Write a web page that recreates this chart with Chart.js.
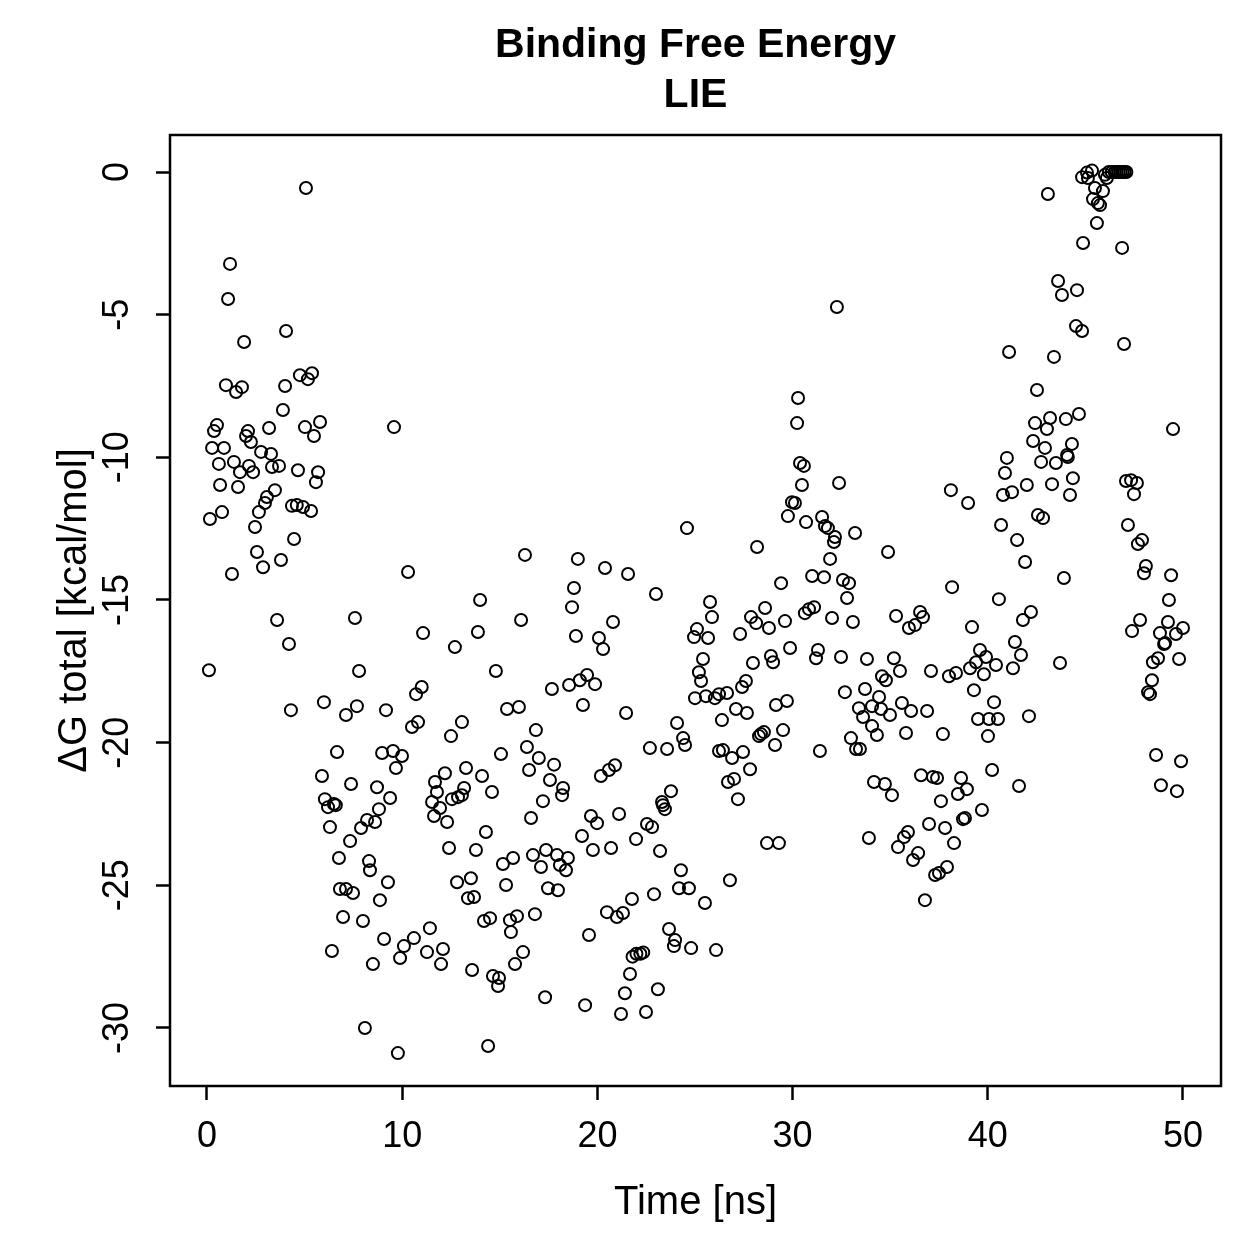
<!DOCTYPE html>
<html>
<head>
<meta charset="utf-8">
<title>Binding Free Energy - LIE</title>
<script src="https://cdn.jsdelivr.net/npm/chart.js@4.4.1/dist/chart.umd.min.js"></script>
<style>
  html, body { margin: 0; padding: 0; background: #fff; }
  #chart { display: block; }
</style>
</head>
<body>
<canvas id="chart" width="1259" height="1259"></canvas>
<script>
// Simulation time of each frame [ns] and LIE binding energy [kcal/mol]
const timeNs = [
  5.07, 1.18, 1.08, 4.05, 1.9, 0.97, 1.79, 1.49, 4.0, 4.76,
  5.38, 5.17, 3.89, 0.51, 0.36, 2.1, 2.0, 2.25, 3.18, 5.02,
  5.79, 5.48, 9.58, 0.26, 0.87, 2.77, 3.28,
  0.61, 1.38, 2.15, 1.69, 2.36, 3.33, 3.69, 4.66, 5.69, 5.58,
  0.67, 1.59, 3.48, 3.07, 2.97, 2.66, 0.77, 0.15, 4.35, 4.6,
  4.92, 5.33, 2.46, 4.46, 2.56, 3.79, 2.87, 1.28, 10.3, 3.59,
  7.58, 11.07, 4.2, 0.1, 7.79, 11.0, 10.71, 5.99, 4.3, 7.68,
  7.12, 9.17, 10.81, 10.5, 6.66, 8.97, 9.53, 9.99, 9.68,
  5.89, 7.38, 8.71, 9.38, 6.04, 6.2, 6.5, 6.6, 8.81, 8.2,
  8.61, 7.89, 6.3, 7.33, 6.76, 8.3, 8.35, 9.27, 6.81, 7.12,
  7.48, 8.86, 6.97, 7.99, 9.07, 10.6, 10.09, 11.42, 6.4, 8.5,
  9.89, 11.27, 8.09, 9.78,
  12.19, 13.27, 11.68, 11.78, 11.53, 11.94, 11.63, 14.09, 14.6, 12.55,
  12.86, 13.06, 13.17, 12.3, 14.29, 12.4, 13.78, 15.16, 15.68, 12.81,
  13.52, 13.37, 13.68, 15.32, 14.19, 14.5, 15.52, 15.88, 15.57, 16.8,
  12.09, 11.99, 13.58, 14.65, 14.96, 14.91, 16.19, 15.78, 14.4, 17.32,
  16.5, 17.78, 17.57, 18.24, 18.19, 17.21, 16.6, 20.18, 20.59, 20.9,
  19.67, 19.98, 21.11, 19.21, 19.77, 20.7, 21.98, 22.54, 22.8, 23.77,
  23.31, 23.36, 23.46, 23.21, 16.7, 17.37, 17.11, 17.93, 18.49, 18.08,
  18.39, 17.47, 17.98, 20.49, 21.0, 21.31, 21.77, 22.9, 19.57, 24.28,
  24.18, 24.69, 23.67, 23.98, 23.92, 24.8, 21.8, 22.0, 22.2, 22.35,
  21.67, 21.41, 23.1, 19.37, 21.21, 22.49,
  24.59, 16.29, 19.0, 20.39, 21.57, 23.0, 18.8, 18.7, 13.99, 13.88,
  12.7, 16.09, 18.9, 20.8, 20.08, 20.29, 14.8, 17.67, 18.55, 19.1,
  19.47, 19.88, 19.26, 15.37, 15.98, 21.47, 13.06, 12.5, 16.85, 16.39,
  15.06, 17.0, 24.08, 24.39, 24.49, 22.69, 23.57,
  30.38, 30.58, 30.48, 32.38, 38.11, 29.97, 30.12, 29.76, 30.69, 31.51,
  31.66, 31.81, 32.17, 32.12, 33.2, 28.18, 34.89, 31.92, 31.0, 31.61,
  32.58, 32.89, 32.79, 29.41, 38.17, 25.77, 25.87, 28.59, 27.87, 28.13,
  28.79, 29.61, 30.63, 30.84, 31.1, 32.02, 33.09, 35.3, 36.53, 36.68,
  36.27, 35.96, 25.1, 24.95, 25.67, 27.31, 25.41, 25.2, 25.31, 27.97,
  28.89, 29.0, 29.87, 31.3, 31.2, 32.48, 33.81, 35.19, 35.5, 37.09,
  38.01, 38.37, 34.58, 34.78, 27.41, 27.61, 25.0, 25.56, 26.02, 26.23,
  26.64, 32.68, 33.71, 34.43, 34.07, 33.4, 33.61, 34.53, 34.99, 35.6,
  36.07, 36.89, 34.07, 34.32, 35.81, 37.7, 32.99, 33.25, 33.45, 31.4,
  27.1, 27.66, 26.38, 29.15, 29.71, 29.51, 29.1, 28.28, 28.38, 28.53,
  26.23, 26.43, 26.9, 27.46, 27.82, 26.69, 27.0, 27.2, 36.58, 37.19,
  37.4,
  25.51, 26.79, 26.08, 28.69, 29.3, 34.17, 34.73, 35.09, 37.6, 33.91,
  36.99, 37.81, 35.91, 35.71, 35.4, 36.43, 36.17, 38.27, 37.91, 37.5,
  37.3, 36.78,
  40.22, 38.63, 38.93, 38.47, 41.6, 48.87, 49.69, 39.7, 38.73, 38.83,
  40.98, 42.73, 43.49, 44.1, 40.88, 38.99, 42.0, 43.29, 44.36, 44.21,
  40.78, 41.24, 47.08, 47.34, 47.64, 47.49, 42.57, 42.83, 40.68, 41.5,
  47.18, 47.9, 47.69, 41.91, 43.9, 48.1, 48.0, 49.39, 40.57, 49.28,
  42.21, 41.8, 47.8, 47.39, 49.23, 48.82, 49.64, 50.0, 49.08, 49.03,
  49.8, 48.72, 48.46, 48.41, 48.21, 48.31, 48.62, 49.9, 39.19, 41.39,
  41.7, 41.29, 43.7, 39.6, 39.91, 39.4, 39.09, 40.42, 39.8, 39.29,
  40.32, 39.5, 40.06, 40.52, 42.11, 40.01,
  44.83, 45.08, 45.34, 45.13, 46.0, 46.1, 46.2, 46.35, 46.5, 46.6,
  46.7, 46.8, 46.9, 47.0, 47.1, 43.08, 45.49, 45.9, 45.39, 45.64,
  45.75, 45.59, 44.88, 46.88, 43.6, 43.8, 44.57, 44.52, 44.83, 46.98,
  41.09, 43.39, 42.52, 43.19, 42.42, 43.03, 44.0, 44.67, 49.49, 42.32,
  42.93, 44.31, 44.06,
  32.27, 30.28, 30.23
];

const deltaG = [
  -0.56, -3.22, -4.45, -5.57, -5.96, -7.47, -7.54, -7.71, -7.5, -7.12,
  -7.05, -7.26, -8.34, -8.87, -9.08, -9.08, -9.25, -9.46, -8.97, -8.94,
  -8.76, -9.25, -8.94, -9.67, -9.67, -9.81, -9.88,
  -10.23, -10.16, -10.3, -10.52, -10.52, -10.34, -10.3, -10.45, -10.52, -10.87,
  -10.97, -11.04, -11.15, -11.39, -11.6, -11.92, -11.92, -12.16, -11.7, -11.67,
  -11.74, -11.88, -12.44, -12.86, -13.32, -13.6, -13.85, -14.09, -14.02, -15.7,
  -15.63, -16.16, -16.54, -17.46, -17.49, -18.05, -18.3, -18.58, -18.86, -18.72,
  -19.03, -18.86, -19.28, -19.45, -20.33, -20.36, -20.29, -20.47, -20.89,
  -21.17, -21.45, -21.56, -21.94, -21.98, -22.26, -22.15, -22.19, -22.33, -22.71,
  -22.78, -22.99, -22.96, -23.45, -24.04, -24.15, -24.47, -24.89, -25.13, -25.13,
  -25.27, -25.52, -26.11, -26.25, -26.88, -26.85, -27.13, -26.5, -27.3, -27.76,
  -27.55, -27.34, -30.0, -30.88,
  -21.07, -20.89, -21.38, -21.73, -22.08, -22.29, -22.57, -21.17, -21.73, -21.98,
  -21.91, -21.84, -21.59, -22.78, -23.13, -23.69, -23.76, -24.25, -24.04, -24.89,
  -24.75, -25.45, -25.41, -24.99, -26.25, -26.15, -26.22, -26.08, -26.64, -26.01,
  -27.23, -27.76, -27.97, -28.18, -28.25, -28.53, -27.34, -27.76, -30.63, -28.92,
  -20.96, -20.77, -21.31, -21.59, -21.84, -22.05, -22.64, -21.17, -20.96, -20.79,
  -22.57, -22.82, -22.5, -23.27, -23.76, -23.69, -23.38, -22.85, -22.96, -21.7,
  -22.08, -22.19, -22.33, -23.8, -23.94, -23.76, -24.36, -23.94, -24.04, -24.29,
  -24.47, -25.1, -25.17, -25.94, -26.11, -25.97, -25.48, -25.31, -26.74, -24.47,
  -25.1, -25.1, -26.53, -26.92, -27.13, -27.2, -27.5, -27.4, -27.4, -27.35,
  -28.11, -28.78, -28.64, -29.2, -29.51, -29.44,
  -12.48, -13.42, -13.56, -13.88, -14.09, -14.79, -14.58, -15.25, -15.0, -16.12,
  -16.65, -15.7, -16.26, -15.77, -16.33, -16.72, -17.49, -18.12, -17.98, -17.81,
  -17.63, -17.95, -18.68, -18.82, -18.75, -18.96, -19.28, -19.77, -19.56, -20.15,
  -20.4, -20.54, -19.31, -19.84, -20.08, -20.19, -20.22,
  -10.2, -10.3, -10.97, -10.9, -11.15, -11.57, -11.6, -12.06, -12.27, -12.09,
  -12.41, -12.48, -12.79, -12.97, -12.65, -13.14, -13.32, -13.56, -14.16, -14.2,
  -14.3, -14.41, -14.93, -14.41, -14.55, -15.07, -15.6, -15.28, -15.6, -15.81,
  -15.98, -15.74, -15.46, -15.32, -15.25, -15.63, -15.77, -15.56, -15.42, -15.6,
  -15.88, -15.98, -16.02, -16.3, -16.33, -16.19, -17.07, -17.53, -17.84, -17.21,
  -16.96, -17.18, -16.68, -16.75, -17.04, -17.0, -17.07, -17.04, -17.49, -17.49,
  -17.67, -17.56, -17.67, -17.81, -18.05, -17.84, -18.44, -18.37, -18.44, -18.3,
  -18.26, -18.23, -18.12, -18.4, -18.72, -18.79, -19.1, -18.82, -19.03, -18.61,
  -18.89, -18.89, -19.42, -19.73, -19.66, -19.7, -19.84, -20.22, -20.22, -20.29,
  -18.82, -18.96, -19.21, -18.68, -18.54, -19.56, -20.08, -19.77, -19.7, -19.63,
  -20.29, -20.26, -20.54, -20.33, -20.93, -21.38, -21.27, -21.98, -21.14, -21.2,
  -21.24,
  -25.62, -24.82, -27.27, -23.52, -23.52, -21.38, -21.45, -21.84, -22.05, -23.34,
  -22.85, -22.99, -23.13, -23.31, -23.66, -23.87, -24.11, -23.52, -24.36, -24.57,
  -24.64, -25.52,
  -20.96, -21.24, -21.63, -21.8, -21.52, -21.49, -21.7, -22.36, -22.68, -22.64,
  -10.02, -10.16, -10.2, -9.99, -10.55, -11.6, -10.97, -10.94, -10.73, -11.32,
  -11.32, -11.22, -10.83, -10.8, -10.9, -11.29, -12.02, -12.13, -12.37, -12.9,
  -12.37, -12.9, -13.04, -13.67, -14.23, -13.81, -14.06, -14.13, -14.97, -15.0,
  -15.42, -15.7, -15.7, -16.09, -15.77, -16.16, -16.19, -15.98, -16.51, -16.54,
  -17.07, -17.04, -17.18, -17.81, -18.23, -18.3, -20.43, -20.65, -15.95, -16.47,
  -16.93, -17.39, -17.21, -16.75, -17.0, -17.18, -17.39, -17.28, -17.6, -18.16,
  -18.58, -19.17, -19.17, -19.17, -19.07, -19.77,
  -0.18, -0.02, 0.05, -0.21, -0.1, -0.21, 0.0, 0.0, 0.0, 0.0,
  0.0, 0.0, 0.0, 0.0, 0.0, -0.77, -0.56, -0.67, -0.95, -1.09,
  -1.16, -1.79, -2.49, -2.66, -3.82, -4.31, -4.14, -5.4, -5.57, -6.03,
  -6.31, -6.48, -7.64, -8.62, -8.8, -9.01, -8.66, -8.48, -9.01, -9.43,
  -9.67, -9.53, -9.92,
  -4.73, -7.92, -8.8
];

const xTicks = [0, 10, 20, 30, 40, 50];
const yTicks = [-30, -25, -20, -15, -10, -5, 0];
const titleLines = ['Binding Free Energy', 'LIE'];
const xLabel = 'Time [ns]';
const yLabel = '\u0394G total [kcal/mol]';

const fontFamily = '"Liberation Sans", Arial, Helvetica, sans-serif';
Chart.defaults.font.family = fontFamily;
Chart.defaults.color = '#000';

const points = timeNs.map((t, i) => ({ x: t, y: deltaG[i] }));

// R-style closed box around the plot region
const plotBox = {
    id: 'plotBox',
    afterDatasetsDraw(chart) {
        const { ctx, chartArea: a } = chart;
        ctx.save();
        ctx.strokeStyle = '#000';
        ctx.lineWidth = 2.5;
        ctx.strokeRect(a.left, a.top, a.right - a.left, a.bottom - a.top);
        ctx.restore();
    }
};

const tickGrid = {
    display: true,
    drawOnChartArea: false,
    drawTicks: true,
    tickLength: 14,
    tickWidth: 2.5,
    tickColor: '#000',
    color: '#000'
};

new Chart(document.getElementById('chart'), {
    type: 'scatter',
    data: {
        datasets: [{
            data: points,
            pointStyle: 'circle',
            pointRadius: 6,
            pointHoverRadius: 6,
            pointBorderWidth: 2,
            borderColor: '#000',
            backgroundColor: 'rgba(0,0,0,0)'
        }]
    },
    options: {
        responsive: false,
        animation: false,
        devicePixelRatio: 1,
        layout: { padding: { left: 0, top: 0, right: 38, bottom: 0 } },
        plugins: {
            legend: { display: false },
            tooltip: { enabled: false },
            title: {
                display: true,
                fullSize: false,
                text: titleLines,
                color: '#000',
                font: { size: 41, weight: 'bold', lineHeight: 1.2 },
                padding: { top: 21.4, bottom: 15.2 }
            }
        },
        scales: {
            x: {
                type: 'linear',
                min: -1.8955,
                max: 51.947,
                afterBuildTicks: axis => { axis.ticks = xTicks.map(value => ({ value })); },
                afterFit: axis => { axis.height = 173; },
                grid: tickGrid,
                border: { display: false },
                ticks: {
                    color: '#000',
                    font: { size: 36 },
                    padding: 15,
                    maxRotation: 0,
                    autoSkip: false,
                    callback: value => String(value)
                },
                title: {
                    display: true,
                    text: xLabel,
                    color: '#000',
                    font: { size: 40 },
                    padding: { top: 0, bottom: 32 }
                }
            },
            y: {
                type: 'linear',
                min: -32.033,
                max: 1.297,
                afterBuildTicks: axis => { axis.ticks = yTicks.map(value => ({ value })); },
                afterFit: axis => { axis.width = 170; },
                grid: tickGrid,
                border: { display: false },
                ticks: {
                    color: '#000',
                    font: { size: 36 },
                    padding: 12,
                    minRotation: 90,
                    maxRotation: 90,
                    crossAlign: 'center',
                    autoSkip: false,
                    callback: value => String(value)
                },
                title: {
                    display: true,
                    text: yLabel,
                    color: '#000',
                    font: { size: 40 },
                    padding: { top: 51, bottom: 0 }
                }
            }
        }
    },
    plugins: [plotBox]
});
</script>
</body>
</html>
